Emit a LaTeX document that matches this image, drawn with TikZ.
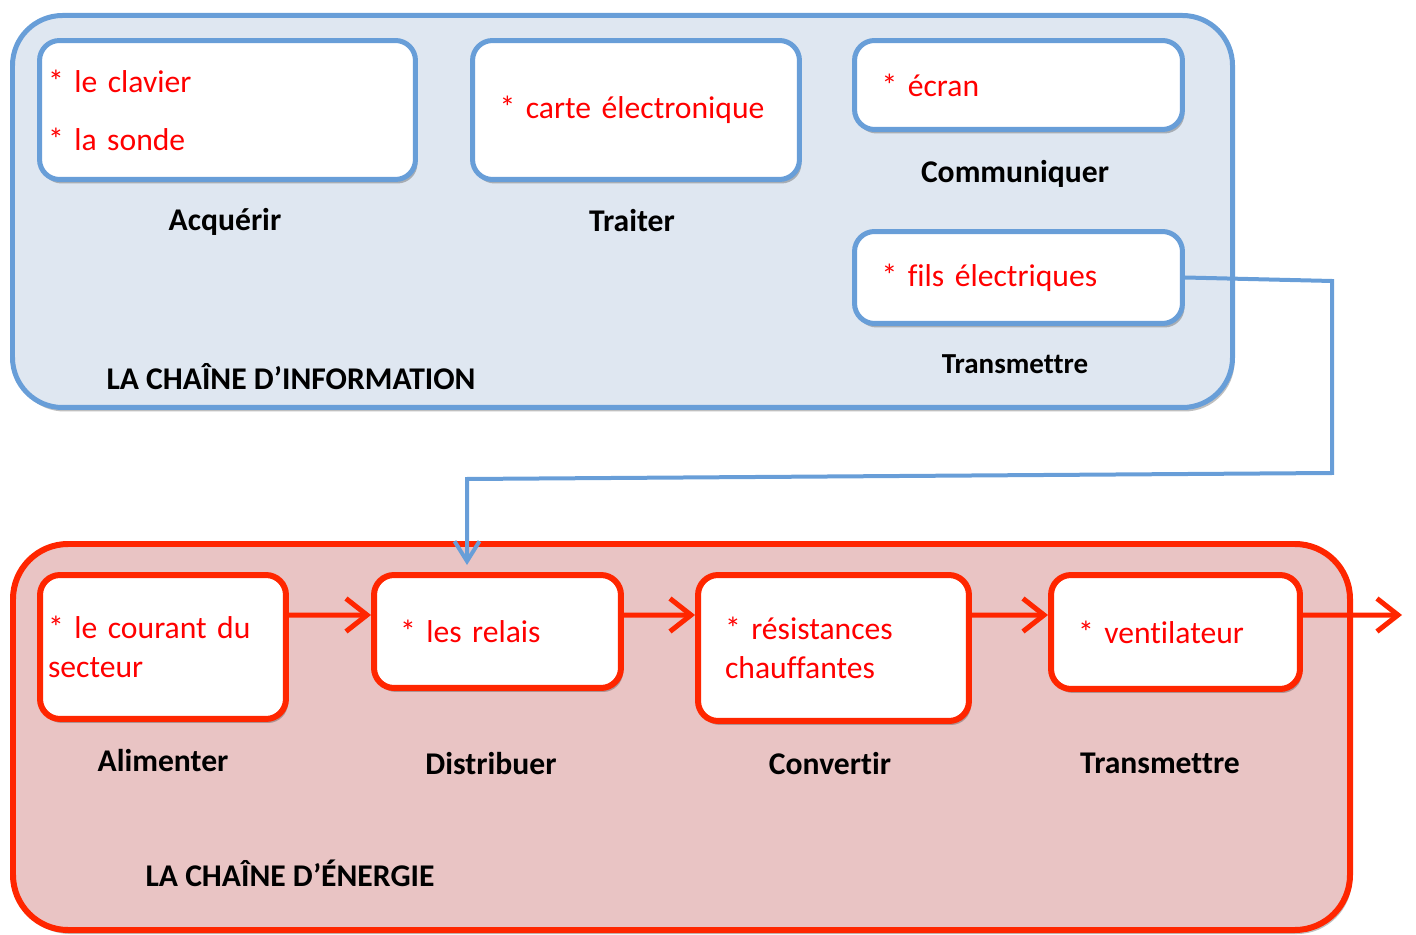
\documentclass[tikz,border=0pt]{standalone}
\usepackage{fontspec}
\setmainfont{Carlito}[Ligatures=NoCommon]
\usetikzlibrary{arrows.meta}
\usetikzlibrary{positioning}
\usetikzlibrary{shadows}
\definecolor{bleutrait}{RGB}{104,158,216}
\definecolor{bleufond}{RGB}{223,231,241}
\definecolor{rougetrait}{RGB}{255,38,0}
\definecolor{rougefond}{RGB}{233,196,196}
\definecolor{rougetexte}{RGB}{255,0,0}
\tikzstyle{ombre} = [drop shadow={shadow xshift=0.04cm, shadow yshift=-0.08cm, opacity=0.25, fill=black}]
\tikzstyle{chaineinfo} = [draw=bleutrait, line width=0.1cm, fill=bleufond, rounded corners=1cm, ombre]
\tikzstyle{chaineenergie} = [draw=rougetrait, line width=0.12cm, fill=rougefond, rounded corners=1.1cm, ombre]
\tikzstyle{boitebleue} = [draw=bleutrait, line width=0.1cm, fill=white, rounded corners=0.4cm,
    align=left, text=rougetexte, inner xsep=0.54cm, ombre]
\tikzstyle{boiterouge} = [draw=rougetrait, line width=0.12cm, fill=white, rounded corners=0.4cm,
    align=left, text=rougetexte, inner xsep=0.54cm, ombre]
\tikzstyle{fonction} = [font=\fontsize{18}{22}\selectfont\bfseries, text=black]
\tikzstyle{fleche} = [draw=rougetrait, line width=0.1cm, -{Straight Barb[length=0.42cm,width=0.66cm]}]
\tikzstyle{liaison} = [draw=bleutrait, line width=0.08cm, -{Straight Barb[length=0.4cm,width=0.5cm]}]

\begin{document}
\begin{tikzpicture}[x=0.02cm, y=-0.02cm, node distance=2cm,
    every node/.style={font=\fontsize{18}{22}\selectfont}]
    \useasboundingbox (0,0) rectangle (1416,935);
    % les deux chaines
    \draw [chaineinfo] (12.5,15.5) rectangle (1232.5,407.5);
    \draw [chaineenergie] (13,544) rectangle (1350,930);

    % chaine d'information
    \node [boitebleue, minimum width=7.52cm, minimum height=2.78cm, inner xsep=0.17cm, text width=7.18cm]
        (acq) at (227.5,110) {* le clavier\\[11pt]* la sonde};
    \node [boitebleue, minimum width=6.54cm, minimum height=2.78cm, text width=5.46cm]
        (trait) at (636,110) {* carte électronique};
    \node [boitebleue, minimum width=6.56cm, minimum height=1.78cm, text width=5.48cm]
        (comm) at (1018.5,85) {* écran};
    \node [boitebleue, minimum width=6.56cm, minimum height=1.84cm, text width=5.48cm]
        (trans) at (1018.5,277.5) {* fils électriques};

    \node [fonction, below of=acq, node distance=2.24cm, xshift=-0.05cm] (lacq) {Acquérir};
    \node [fonction, below of=trait, node distance=2.22cm, xshift=-0.08cm] (ltrait) {Traiter};
    \node [fonction, below of=comm, node distance=1.78cm, xshift=-0.07cm] (lcomm) {Communiquer};
    \node [fonction, below of=trans, node distance=1.73cm, xshift=-0.07cm,
        font=\fontsize{16.5}{20}\selectfont\bfseries] (ltrans) {Transmettre};
    \node [fonction] (tinfo) at (291,377) {LA CHAÎNE D’INFORMATION};

    % chaine d'energie
    \node [boiterouge, minimum width=4.92cm, minimum height=2.88cm, inner xsep=0.16cm, text width=4.6cm]
        (alim) at (163,647) {* le courant du\\secteur};
    \node [boiterouge, minimum width=4.94cm, minimum height=2.26cm, inner xsep=0.52cm, text width=3.9cm]
        (dist) at (497.5,631.5) {* les relais};
    \node [boiterouge, minimum width=5.42cm, minimum height=2.92cm, text width=4.34cm]
        (conv) at (833.5,648) {* résistances\\chauffantes};
    \node [boiterouge, minimum width=4.98cm, minimum height=2.28cm, text width=3.9cm]
        (vent) at (1175.5,632) {* ventilateur};

    \node [fonction, below of=alim, node distance=2.28cm] (lalim) {Alimenter};
    \node [fonction, below of=dist, node distance=2.65cm, xshift=-0.13cm] (ldist) {Distribuer};
    \node [fonction, below of=conv, node distance=2.32cm, xshift=-0.07cm] (lconv) {Convertir};
    \node [fonction, below of=vent, node distance=2.62cm, xshift=-0.31cm] (lvent) {Transmettre};
    \node [fonction] (tener) at (290,873) {LA CHAÎNE D’ÉNERGIE};

    % fleches
    \coordinate (sortie) at (1402,615);
    \draw [fleche] ([yshift=-0.86cm]alim.north east) -- ([yshift=-0.86cm]dist.north west);
    \draw [fleche] ([yshift=-0.86cm]dist.north east) -- ([yshift=-0.86cm]conv.north west);
    \draw [fleche] ([yshift=-0.86cm]conv.north east) -- ([yshift=-0.86cm]vent.north west);
    \draw [fleche] ([yshift=-0.86cm]vent.north east) -- (sortie);

    % liaison entre les chaines
    \coordinate (coudeA) at (1332,281);
    \coordinate (coudeB) at (1332,473);
    \coordinate (coudeC) at (467,479);
    \draw [liaison] (trans.east) -- (coudeA) -- (coudeB) -- (coudeC)
        -- ([xshift=-0.61cm,yshift=0.14cm]dist.north);
\end{tikzpicture}
\end{document}
